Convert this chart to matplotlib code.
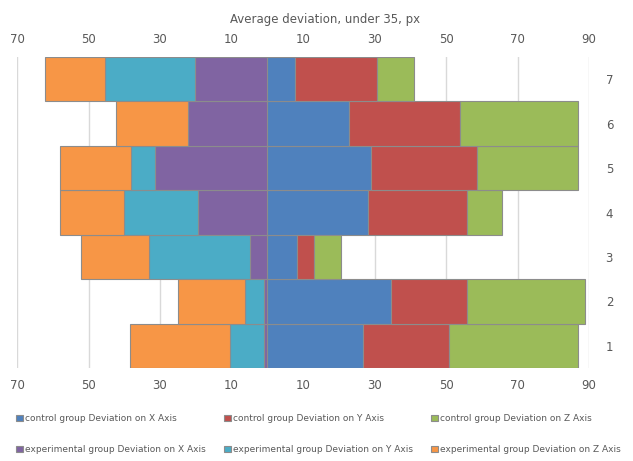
import matplotlib.pyplot as plt
import numpy as np

rows = [1, 2, 3, 4, 5, 6, 7]

# control group goes to the right of zero
ctrl_x = [26.9, 34.7, 8.2, 28.1, 28.9, 23.0, 7.9]
ctrl_y = [24.0, 21.1, 4.9, 27.7, 29.9, 30.9, 22.9]
ctrl_z = [36.0, 33.1, 7.6, 10.0, 28.1, 33.0, 10.2]

# experimental group goes to the left of zero
exp_x = [0.8, 0.8, 4.8, 19.3, 31.3, 22.3, 20.2]
exp_y = [9.5, 5.3, 28.2, 20.9, 6.8, 0.0, 25.1]
exp_z = [28.0, 19.0, 19.0, 17.9, 20.0, 19.9, 17.0]

ticks = [-70, -50, -30, -10, 10, 30, 50, 70, 90]

colors = {
    "ctrl_x": "#4F81BD", "ctrl_y": "#C0504D", "ctrl_z": "#9BBB59",
    "exp_x": "#8064A2", "exp_y": "#4BACC6", "exp_z": "#F79646",
}
edge = "#8c8c8c"
text_col = "#595959"

fig = plt.figure(figsize=(6.33, 4.61), dpi=100)
ax = fig.add_axes([17 / 633, 1 - 368 / 461, 572 / 633, 311 / 461])

y = np.array(rows)
kw = dict(height=1.0, edgecolor=edge, linewidth=0.8)

cx, cy, cz = np.array(ctrl_x), np.array(ctrl_y), np.array(ctrl_z)
ex, ey, ez = np.array(exp_x), np.array(exp_y), np.array(exp_z)

h_cx = ax.barh(y, cx, left=0, color=colors["ctrl_x"], label="control group Deviation on X Axis", **kw)
h_cy = ax.barh(y, cy, left=cx, color=colors["ctrl_y"], label="control group Deviation on Y Axis", **kw)
h_cz = ax.barh(y, cz, left=cx + cy, color=colors["ctrl_z"], label="control group Deviation on Z Axis", **kw)
h_ex = ax.barh(y, -ex, left=0, color=colors["exp_x"], label="experimental group Deviation on X Axis", **kw)
h_ey = ax.barh(y, -ey, left=-ex, color=colors["exp_y"], label="experimental group Deviation on Y Axis", **kw)
h_ez = ax.barh(y, -ez, left=-ex - ey, color=colors["exp_z"], label="experimental group Deviation on Z Axis", **kw)

ax.set_xlim(-70, 90)
ax.set_ylim(0.5, 7.5)

ax.set_xticks(ticks)
ax.set_xticklabels([str(abs(t)) for t in ticks])
ax.tick_params(axis="x", which="both", top=True, bottom=True,
               labeltop=True, labelbottom=True, length=0,
               colors=text_col, labelsize=8.5, pad=8)
ax.set_yticks(rows)
ax.yaxis.tick_right()
ax.tick_params(axis="y", length=0, colors=text_col, labelsize=8.5, pad=12)

ax.grid(axis="x", color="#d9d9d9", linewidth=1)
ax.set_axisbelow(True)
for s in ax.spines.values():
    s.set_visible(False)

fig.text(325 / 633, 1 - 20 / 461, "Average deviation, under 35, px",
         ha="center", va="center", fontsize=8.5, color=text_col)

# column-major order so row 1 is control, row 2 is experimental
handles = [h_cx, h_ex, h_cy, h_ey, h_cz, h_ez]
fig.legend(handles=handles, labels=[h.get_label() for h in handles],
           ncol=3, loc="upper left", bbox_to_anchor=(0.016, 1 - 408 / 461),
           frameon=False, fontsize=6.5, labelcolor=text_col,
           handlelength=0.7, handleheight=0.7, handletextpad=0.3,
           labelspacing=2.4, columnspacing=2.0, borderaxespad=0.3)

fig.savefig("out.png", dpi=100)
